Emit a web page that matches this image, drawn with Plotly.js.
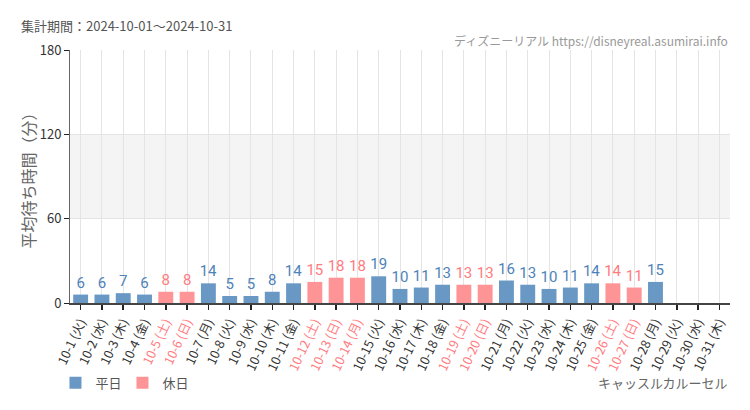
<!DOCTYPE html>
<html>
<head>
<meta charset="utf-8">
<script src="https://cdn.plot.ly/plotly-3.0.1.min.js"></script>
<style>
  body { margin: 0; background: #fff; }
  #chart { width: 750px; height: 410px; }
</style>
</head>
<body>
<div id="chart"></div>
<script>
// 10月の日付・曜日・平均待ち時間（分）
const days = ["10-1","10-2","10-3","10-4","10-5","10-6","10-7","10-8","10-9","10-10",
  "10-11","10-12","10-13","10-14","10-15","10-16","10-17","10-18","10-19","10-20",
  "10-21","10-22","10-23","10-24","10-25","10-26","10-27","10-28","10-29","10-30","10-31"];
const weekdays = ["火","水","木","金","土","日","月","火","水","木",
  "金","土","日","月","火","水","木","金","土","日",
  "月","火","水","木","金","土","日","月","火","水","木"];
const waits = [6,6,7,6,8,8,14,5,5,8,
  14,15,18,18,19,10,11,13,13,13,
  16,13,10,11,14,14,11,15,null,null,null];
// 休日 (土日祝)
const holidays = ["10-5","10-6","10-12","10-13","10-14","10-19","10-20","10-26","10-27"];

const BLUE = "#6a98c4", PINK = "#ff9497";
const BLUE_TXT = "#4d82b8", PINK_TXT = "#ff7b80";

const isHoliday = (d) => holidays.includes(d);
const labels = days.map((d, i) => d + " (" + weekdays[i] + ")");
const tickText = labels.map((l, i) =>
  isHoliday(days[i]) ? '<span style="color:' + PINK_TXT + '">' + l + '</span>' : l);

const weekdayY = waits.map((v, i) => isHoliday(days[i]) ? null : v);
const holidayY = waits.map((v, i) => isHoliday(days[i]) ? v : null);

const numFont = { family: "Roboto, sans-serif", size: 15 };

const traces = [
  {
    type: "bar", name: "平日", x: labels, y: weekdayY,
    marker: { color: BLUE },
    text: weekdayY.map((v) => v == null ? "" : String(v)),
    textposition: "outside", cliponaxis: false, constraintext: "none",
    textfont: Object.assign({ color: BLUE_TXT }, numFont),
    hoverinfo: "x+y"
  },
  {
    type: "bar", name: "休日", x: labels, y: holidayY,
    marker: { color: PINK },
    text: holidayY.map((v) => v == null ? "" : String(v)),
    textposition: "outside", cliponaxis: false, constraintext: "none",
    textfont: Object.assign({ color: PINK_TXT }, numFont),
    hoverinfo: "x+y"
  }
];

const layout = {
  width: 750, height: 410,
  margin: { l: 70, r: 20, t: 50, b: 105 },
  paper_bgcolor: "#fff", plot_bgcolor: "#fff",
  font: { family: "Noto Sans CJK JP, sans-serif", color: "#333", size: 12 },
  barmode: "overlay", bargap: 0.3,
  showlegend: true,
  legend: {
    orientation: "h", x: -0.022, xanchor: "left", y: -0.315, yanchor: "middle",
    font: { size: 13, color: "#555" }, entrywidth: 22, traceorder: "normal"
  },
  xaxis: {
    type: "category", tickvals: labels, ticktext: tickText, tickangle: -65,
    showgrid: true, gridcolor: "#e4e4e4", gridwidth: 1,
    showline: true, linecolor: "#444", linewidth: 2,
    ticks: "outside", ticklen: 5, tickcolor: "#222", tickwidth: 1.5,
    tickfont: { size: 12.5, color: "#333" },
    fixedrange: true
  },
  yaxis: {
    range: [0, 180], tickvals: [0, 60, 120, 180],
    showgrid: true, gridcolor: "#e4e4e4", zeroline: false,
    showline: true, linecolor: "#666", linewidth: 1,
    ticks: "outside", ticklen: 5, tickcolor: "#222",
    tickfont: { size: 13, color: "#333" },
    title: { text: "平均待ち時間（分）", font: { size: 16, color: "#666" }, standoff: 0 },
    fixedrange: true
  },
  shapes: [
    { type: "rect", xref: "paper", yref: "y", x0: 0, x1: 1, y0: 60, y1: 120,
      fillcolor: "#f4f4f4", line: { width: 0 }, layer: "below" }
  ],
  annotations: [
    { text: "集計期間：2024-10-01～2024-10-31", xref: "paper", yref: "paper",
      x: -0.077, y: 1.098, xanchor: "left", yanchor: "middle", showarrow: false,
      font: { size: 13, color: "#555" } },
    { text: "ディズニーリアル https://disneyreal.asumirai.info", xref: "paper", yref: "paper",
      x: 1, y: 1.039, xanchor: "right", yanchor: "middle", showarrow: false,
      font: { size: 12, color: "#999" } },
    { text: "キャッスルカルーセル", xref: "paper", yref: "paper",
      x: 1, y: -0.315, xanchor: "right", yanchor: "middle", showarrow: false,
      font: { size: 13, color: "#666" } }
  ]
};

Plotly.newPlot("chart", traces, layout, { displayModeBar: false, staticPlot: true });
</script>
</body>
</html>
